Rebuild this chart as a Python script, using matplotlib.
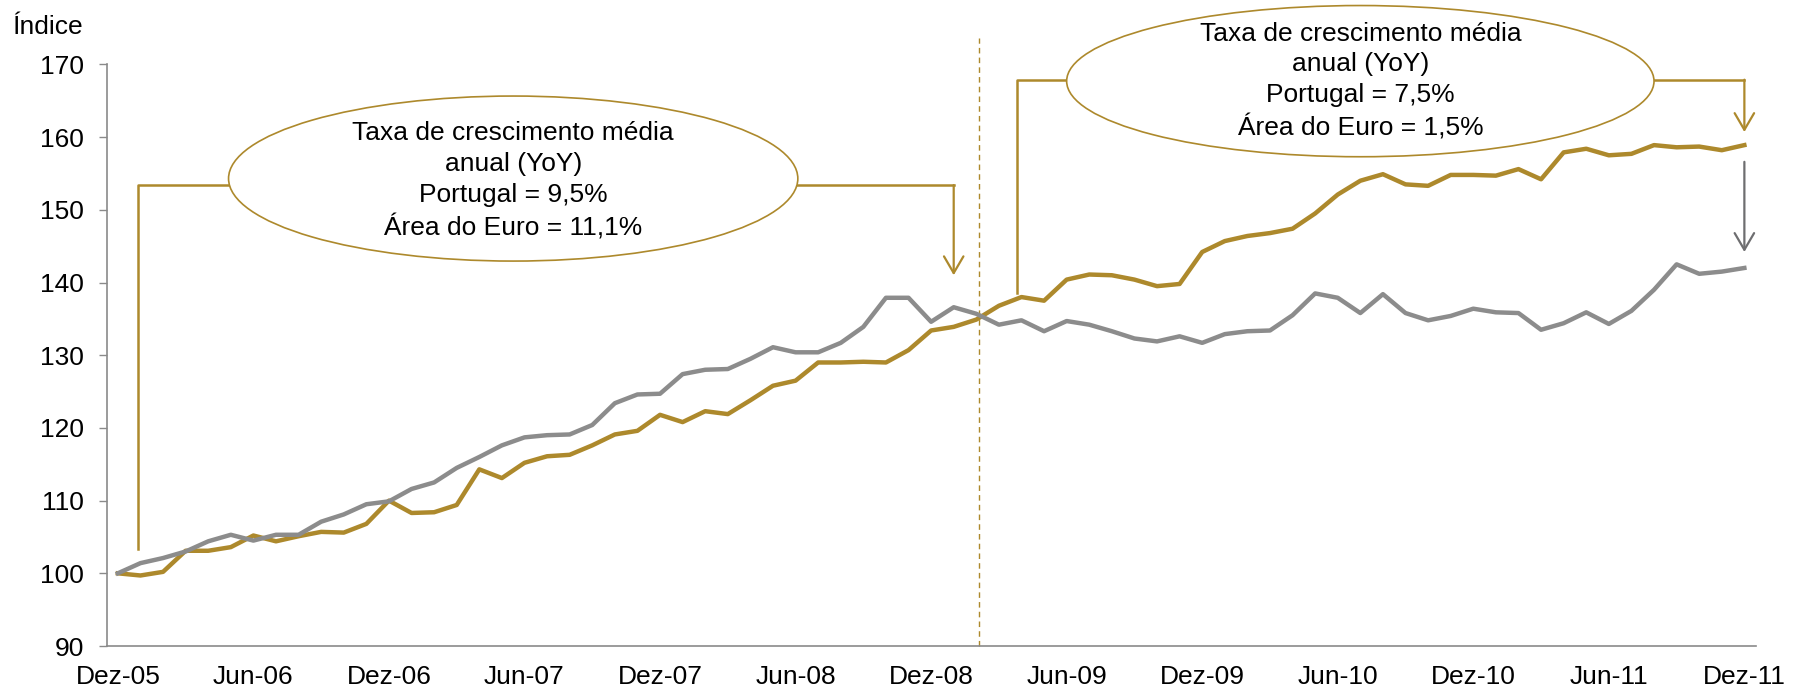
import matplotlib
matplotlib.use("Agg")
import matplotlib.pyplot as plt
from matplotlib.patches import Ellipse, FancyArrowPatch

plt.rcParams['font.family'] = ['Liberation Sans', 'DejaVu Sans']

# monthly index, Dez-05 = 100
portugal = [100.0, 99.7, 100.2, 103.1, 103.1, 103.6, 105.2, 104.4, 105.1, 105.7, 105.6, 106.8,
            110.0, 108.3, 108.4, 109.4, 114.3, 113.1, 115.2, 116.1, 116.3, 117.6, 119.1, 119.6,
            121.8, 120.8, 122.3, 121.9, 123.8, 125.8, 126.5, 129.0, 129.0, 129.1, 129.0, 130.7,
            133.4, 133.9, 134.9, 136.8, 138.0, 137.5, 140.4, 141.1, 141.0, 140.4, 139.5, 139.8,
            144.2, 145.7, 146.4, 146.8, 147.4, 149.5, 152.1, 154.0, 154.9, 153.5, 153.3, 154.8,
            154.8, 154.7, 155.6, 154.2, 157.9, 158.4, 157.5, 157.7, 158.9, 158.6, 158.7, 158.2,
            158.9]
area_euro = [100.0, 101.4, 102.1, 103.0, 104.4, 105.3, 104.5, 105.3, 105.3, 107.1, 108.1, 109.5,
             109.9, 111.6, 112.5, 114.5, 116.0, 117.6, 118.7, 119.0, 119.1, 120.4, 123.4, 124.6,
             124.7, 127.4, 128.0, 128.1, 129.5, 131.1, 130.4, 130.4, 131.7, 133.9, 137.9, 137.9,
             134.6, 136.6, 135.7, 134.2, 134.8, 133.3, 134.7, 134.2, 133.3, 132.3, 131.9, 132.6,
             131.7, 132.9, 133.3, 133.4, 135.5, 138.5, 137.9, 135.8, 138.4, 135.8, 134.8, 135.4,
             136.4, 135.9, 135.8, 133.5, 134.4, 135.9, 134.3, 136.1, 139.0, 142.5, 141.2, 141.5,
             142.0]
tick_labels = ["Dez-05", "Jun-06", "Dez-06", "Jun-07", "Dez-07", "Jun-08", "Dez-08",
               "Jun-09", "Dez-09", "Jun-10", "Dez-10", "Jun-11", "Dez-11"]
note_1 = "Taxa de crescimento média\nanual (YoY)\nPortugal = 9,5%\nÁrea do Euro = 11,1%"
note_2 = "Taxa de crescimento média\nanual (YoY)\nPortugal = 7,5%\nÁrea do Euro = 1,5%"

GOLD = "#AD892C"
GREY = "#8C8C8C"
AXC = "#8A8A8A"
FS = 19

months = list(range(len(portugal)))

fig = plt.figure(figsize=(17.97, 6.89), dpi=100)
ax = fig.add_axes([0.0593, 0.0624, 0.9177, 0.8441])

ax.plot(months, portugal, color=GOLD, lw=3.2, solid_joinstyle='round', zorder=3)
ax.plot(months, area_euro, color=GREY, lw=3.2, solid_joinstyle='round', zorder=3)

ax.set_xlim(-0.5, 72.5)
ax.set_ylim(90, 170)
ax.set_yticks(range(90, 171, 10))
ax.set_xticks(range(0, 73, 6))
ax.set_xticklabels(tick_labels)
ax.tick_params(axis='y', length=6, width=1, color=AXC, pad=10, labelsize=FS)
ax.tick_params(axis='x', length=0, pad=14, labelsize=FS)
for s in ['top', 'right']:
    ax.spines[s].set_visible(False)
for s in ['left', 'bottom']:
    ax.spines[s].set_color(AXC)
    ax.spines[s].set_linewidth(1.2)

# dashed separator
ax.plot([38.1, 38.1], [90, 173.6], color=GOLD, lw=1.0, ls=(0, (4, 3)), clip_on=False, zorder=2)

# brackets
ax.plot([0.9, 0.9, 37.0], [103.3, 153.4, 153.4], color=GOLD, lw=1.8, clip_on=False, zorder=2)
ax.plot([39.8, 39.8, 72.0], [138.6, 167.9, 167.9], color=GOLD, lw=1.8, clip_on=False, zorder=2)

def arrow(x, y0, y1, c):
    a = FancyArrowPatch((x, y0), (x, y1), arrowstyle='->,head_length=12,head_width=7',
                        mutation_scale=1, color=c, lw=1.6, shrinkA=0, shrinkB=0,
                        clip_on=False, zorder=4)
    ax.add_patch(a)

arrow(37.0, 153.4, 141.0, GOLD)
arrow(72.0, 167.9, 160.7, GOLD)
arrow(72.0, 156.6, 144.2, "#6E6E70")

ax.add_patch(Ellipse((17.5, 154.3), 25.2, 22.7, facecolor='white', edgecolor=GOLD,
                     lw=1.2, clip_on=False, zorder=5))
ax.add_patch(Ellipse((55.0, 167.7), 26.0, 20.8, facecolor='white', edgecolor=GOLD,
                     lw=1.2, clip_on=False, zorder=5))
ax.text(17.5, 154.0, note_1, ha='center', va='center', fontsize=FS, linespacing=1.36,
        zorder=6)
ax.text(55.0, 167.7, note_2, ha='center', va='center', fontsize=FS, linespacing=1.36,
        zorder=6, clip_on=False)

fig.text(47 / 1797, 1 - 27 / 689, "Índice", ha='center', va='center', fontsize=FS)

fig.savefig("out.png", dpi=100)
